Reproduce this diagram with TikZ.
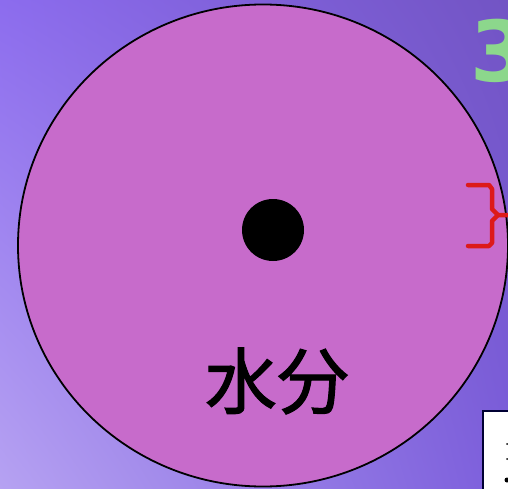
\documentclass[tikz,border=0pt]{standalone}
\usepackage{fontspec}
\usetikzlibrary{shadings}
\newfontfamily\cjk{Noto Sans CJK JP}[FakeBold=1.5]
\newfontfamily\numfont{DejaVu Sans}
\definecolor{bgUL}{HTML}{8C6CEE}
\definecolor{bgUR}{HTML}{7254C4}
\definecolor{bgLL}{HTML}{B6A2F2}
\definecolor{bgLR}{HTML}{7C5EDC}
\definecolor{cellfill}{HTML}{C76BCB}
\definecolor{numgreen}{HTML}{8CD78C}
\definecolor{bracered}{HTML}{DD1A1A}
\tikzset{
  cellbody/.style={draw=black, line width=1.8pt, fill=cellfill},
  nucleus/.style={fill=black},
  braceline/.style={draw=bracered, line width=4.5pt, line cap=round, line join=round},
  labelbox/.style={draw=black!80!blue, line width=2pt, fill=white}
}
\begin{document}
\begin{tikzpicture}[x=1pt,y=-1pt]
\useasboundingbox (0,0) rectangle (508,489);
\shade[upper left=bgUL, upper right=bgUR, lower left=bgLL, lower right=bgLR] (0,0) rectangle (508,489);
% green number partially visible
\node[text=numgreen, font=\numfont\bfseries\fontsize{84}{84}\selectfont, anchor=west, inner sep=0pt] (num) at (470,51) {3};
% cell
\path[cellbody] (263,245.5) ellipse [x radius=245, y radius=241];
\coordinate (c) at (263,245.5);
\fill[nucleus] (273,230) circle (31);
\node[font=\cjk\fontsize{72}{72}\selectfont, inner sep=0pt] (water) at (277,381) {水分};
% red brace
\draw[braceline] (468,185) -- (489,185) -- (492,189) -- (492,209) -- (498,215) -- (510,215);
\draw[braceline] (498,215) -- (492,221) -- (492,243) -- (489,246) -- (468,246);
% white box bottom right
\path[labelbox] (483,411) rectangle (520,500);
\fill (507,444) circle (1);
\fill (507,459) circle (1);
\fill (507,480) circle (2.5);
\end{tikzpicture}
\end{document}
